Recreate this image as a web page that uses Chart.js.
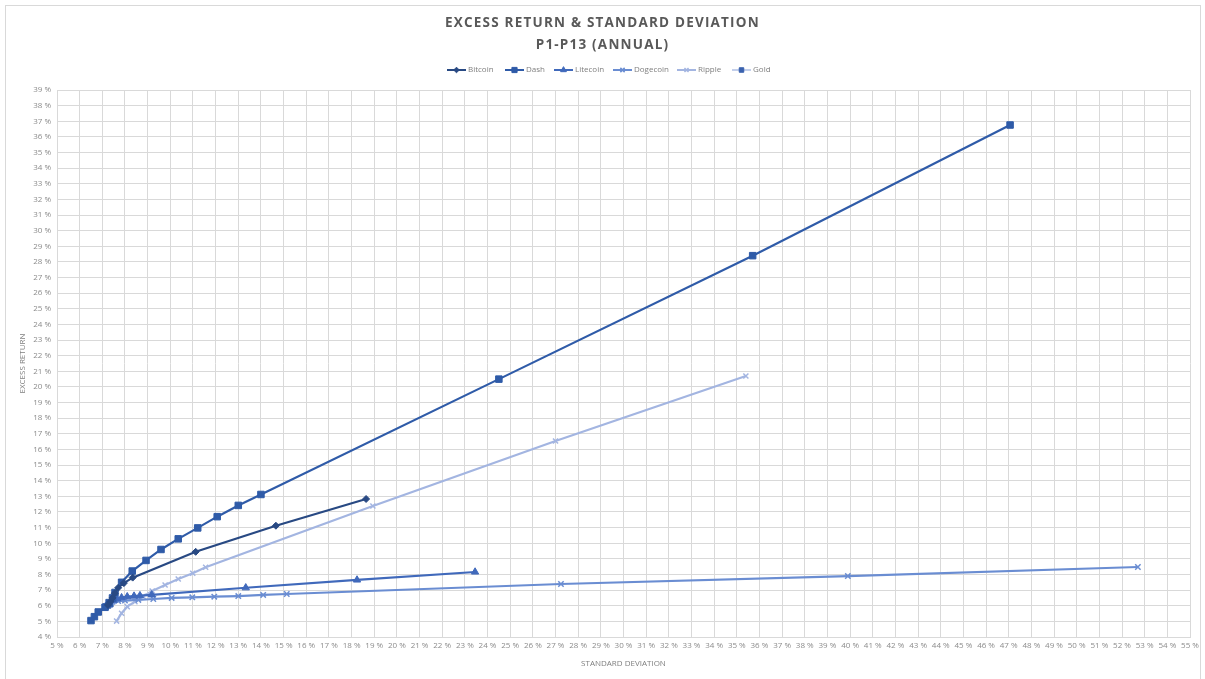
<!DOCTYPE html>
<html>
<head>
<meta charset="utf-8">
<script src="https://cdn.jsdelivr.net/npm/chart.js@4.4.1/dist/chart.umd.min.js"></script>
<style>
  html, body { margin: 0; padding: 0; background: #fff; }
  #wrap { position: relative; width: 1205px; height: 679px; overflow: hidden; }
  #frame { position: absolute; left: 5px; top: 5px; width: 1196px; height: 680px; border: 1px solid #d9d9d9; box-sizing: border-box; }
  #title { position: absolute; left: 0; width: 1205px; top: 11px; text-align: center;
           font-family: "Open Sans", sans-serif; font-weight: 700; font-size: 13.5px; line-height: 22px;
           letter-spacing: 1.2px; color: #595959; }
  canvas { position: absolute; left: 0; top: 0; }
</style>
</head>
<body>
<div id="wrap">
  <div id="frame"></div>
  <canvas id="c" width="1205" height="679"></canvas>
  <div id="title">EXCESS RETURN &amp; STANDARD DEVIATION<br>P1-P13 (ANNUAL)</div>
</div>
<script>
// Standard deviation (x, %) and excess return (y, %) per asset
const bitcoinSD   = [7.25, 7.35, 7.45, 7.55, 7.7, 7.95, 8.34, 11.12, 14.66, 18.64];
const bitcoinER   = [6.05, 6.25, 6.5, 6.8, 7.15, 7.45, 7.8, 9.45, 11.12, 12.83];

const dashSD      = [6.5, 6.65, 6.82, 7.12, 7.3, 7.45, 7.56, 7.85, 8.32, 8.93, 9.59, 10.35, 11.21, 12.07, 13.0, 14.0, 24.5, 35.7, 47.06];
const dashER      = [5.05, 5.3, 5.6, 5.9, 6.2, 6.5, 6.85, 7.5, 8.22, 8.9, 9.6, 10.28, 10.98, 11.7, 12.42, 13.12, 20.5, 28.4, 36.76];

const litecoinSD  = [7.5, 7.65, 7.85, 8.1, 8.4, 8.66, 9.18, 13.33, 18.24, 23.45];
const litecoinER  = [6.35, 6.45, 6.52, 6.58, 6.62, 6.65, 6.7, 7.15, 7.65, 8.16];

const dogecoinSD  = [7.45, 7.7, 8.0, 8.59, 9.25, 10.06, 10.97, 11.94, 13.0, 14.1, 15.14, 27.24, 39.9, 52.7];
const dogecoinER  = [6.25, 6.3, 6.33, 6.37, 6.43, 6.5, 6.54, 6.58, 6.62, 6.69, 6.75, 7.39, 7.9, 8.48];

const rippleSD    = [7.63, 7.85, 8.1, 8.44, 8.8, 9.2, 9.77, 10.35, 10.99, 11.56, 18.94, 27.0, 35.4];
const rippleER    = [5.02, 5.52, 5.94, 6.26, 6.6, 6.94, 7.33, 7.71, 8.08, 8.46, 12.38, 16.54, 20.7];

const goldSD      = [7.15, 7.25, 7.35];
const goldER      = [5.95, 6.02, 6.1];

// Axis ranges and tick step (percent)
const xTicks = { min: 5, max: 55, step: 1 };
const yTicks = { min: 4, max: 39, step: 1 };

const pts = (xs, ys) => xs.map((x, i) => ({ x: x, y: ys[i] }));

const series = [
  { label: 'Bitcoin',  data: pts(bitcoinSD, bitcoinER),   color: '#284983', marker: '#284983', style: 'rectRot',  r: 3.5 },
  { label: 'Dash',     data: pts(dashSD, dashER),         color: '#2f5ba8', marker: '#2f5ba8', style: 'rect',     r: 4.6 },
  { label: 'Litecoin', data: pts(litecoinSD, litecoinER), color: '#4069bb', marker: '#4069bb', style: 'triangle', r: 4.2 },
  { label: 'Dogecoin', data: pts(dogecoinSD, dogecoinER), color: '#6a8dd2', marker: '#6a8dd2', style: 'crossRot', r: 3.8 },
  { label: 'Ripple',   data: pts(rippleSD, rippleER),     color: '#a3b5e1', marker: '#a3b5e1', style: 'crossRot', r: 3.6 },
  { label: 'Gold',     data: pts(goldSD, goldER),         color: '#c3cfeb', marker: '#3a62ae', style: 'rect',     r: 4 }
];

const FONT = '"Open Sans", sans-serif';
const PLOT = { left: 57, right: 1190, top: 90, bottom: 637 };

// Legend drawn as line + marker pairs
const legendPlugin = {
  id: 'lineLegend',
  afterDraw(chart) {
    const ctx = chart.ctx;
    const y = 70;
    const starts = [447, 505, 554, 613, 677, 732];
    ctx.save();
    ctx.font = '8px ' + FONT;
    ctx.textBaseline = 'middle';
    chart.data.datasets.forEach((ds, i) => {
      const x0 = starts[i];
      ctx.strokeStyle = ds.borderColor;
      ctx.lineWidth = 2;
      ctx.beginPath(); ctx.moveTo(x0, y); ctx.lineTo(x0 + 19, y); ctx.stroke();
      ctx.fillStyle = ds.pointBackgroundColor;
      ctx.strokeStyle = ds.pointBorderColor;
      ctx.lineWidth = ds.pointBorderWidth;
      Chart.helpers.drawPoint(ctx, {
        pointStyle: ds.pointStyle, radius: ds.pointRadius * 0.8, rotation: 0,
        borderWidth: ds.pointBorderWidth
      }, x0 + 9.5, y);
      ctx.fillStyle = '#7f7f7f';
      ctx.fillText(ds.label, x0 + 21, y);
    });
    ctx.restore();
  }
};

// Rotated and horizontal axis titles
const axisTitlePlugin = {
  id: 'axisTitles',
  afterDraw(chart) {
    const ctx = chart.ctx;
    ctx.save();
    ctx.fillStyle = '#7f7f7f';
    ctx.font = '8px ' + FONT;
    ctx.textAlign = 'center';
    ctx.textBaseline = 'middle';
    ctx.fillText('STANDARD DEVIATION', (PLOT.left + PLOT.right) / 2, 664);
    ctx.translate(23, (PLOT.top + PLOT.bottom) / 2);
    ctx.rotate(-Math.PI / 2);
    ctx.fillText('EXCESS RETURN', 0, 0);
    ctx.restore();
  }
};

new Chart(document.getElementById('c'), {
  type: 'scatter',
  data: {
    datasets: series.map(s => ({
      label: s.label,
      data: s.data,
      showLine: true,
      borderColor: s.color,
      backgroundColor: s.marker,
      borderWidth: 2.2,
      pointStyle: s.style,
      pointRadius: s.r,
      pointHoverRadius: s.r,
      pointBackgroundColor: s.marker,
      pointBorderColor: s.marker,
      pointBorderWidth: (s.style === 'crossRot') ? 1.5 : 1,
      tension: 0
    }))
  },
  options: {
    responsive: false,
    animation: false,
    layout: { padding: { top: PLOT.top, left: 0, right: 1205 - PLOT.right, bottom: 0 } },
    plugins: {
      legend: { display: false },
      title: { display: false },
      tooltip: { enabled: false }
    },
    scales: {
      x: {
        type: 'linear',
        min: xTicks.min, max: xTicks.max,
        ticks: {
          stepSize: xTicks.step,
          autoSkip: false,
          maxRotation: 0,
          color: '#8c8c8c',
          font: { family: FONT, size: 8 },
          padding: 4,
          callback: v => v + ' %'
        },
        grid: { color: '#d9d9d9', lineWidth: 1, drawTicks: false },
        border: { color: '#d9d9d9' },
        afterFit: s => { s.height = 679 - PLOT.bottom; }
      },
      y: {
        type: 'linear',
        min: yTicks.min, max: yTicks.max,
        ticks: {
          stepSize: yTicks.step,
          autoSkip: false,
          color: '#8c8c8c',
          font: { family: FONT, size: 8 },
          padding: 6,
          callback: v => v + ' %'
        },
        grid: { color: '#d9d9d9', lineWidth: 1, drawTicks: false },
        border: { color: '#d9d9d9' },
        afterFit: s => { s.width = PLOT.left; }
      }
    }
  },
  plugins: [legendPlugin, axisTitlePlugin]
});
</script>
</body>
</html>
